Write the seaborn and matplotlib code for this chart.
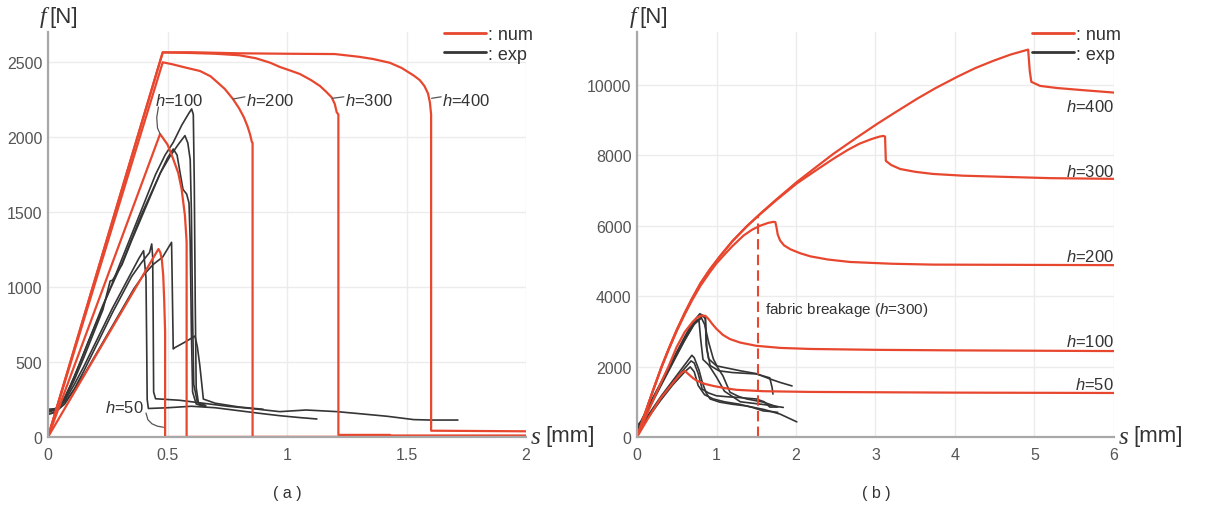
import numpy as np
import pandas as pd
import matplotlib
matplotlib.use("Agg")
import matplotlib.pyplot as plt
from matplotlib.lines import Line2D
import seaborn as sns

# ---------------------------------------------------------------- data (a)
# numerical curves, slip s [mm] vs force f [N]
a_num_h50_s = [0, 0.462, 0.47, 0.476, 0.482, 0.486, 0.49, 0.49, 2.0]
a_num_h50_f = [0, 1253, 1230, 1187, 1080, 920, 700, 0, 0]
a_num_h100_s = [0, 0.469, 0.5, 0.524, 0.545, 0.559, 0.573, 0.58, 0.58, 2.0]
a_num_h100_f = [0, 2020, 1950, 1853, 1760, 1653, 1476, 1300, 0, 0]
a_num_h200_s = [0, 0.48, 0.52, 0.57, 0.636, 0.68, 0.707, 0.74, 0.774, 0.8, 0.82, 0.835,
                0.845, 0.853, 0.856, 0.856, 2.0]
a_num_h200_f = [0, 2498, 2485, 2465, 2440, 2405, 2367, 2320, 2253, 2190, 2130, 2070,
                2020, 1967, 1960, 0, 0]
a_num_h300_s = [0, 0.48, 0.6, 0.7, 0.8, 0.87, 0.93, 0.97, 1.01, 1.054, 1.1, 1.138, 1.165,
                1.187, 1.2, 1.208, 1.215, 1.215, 1.43, 1.43, 2.0]
a_num_h300_f = [0, 2564, 2560, 2555, 2545, 2525, 2495, 2467, 2445, 2420, 2380, 2340, 2300,
                2264, 2220, 2165, 2150, 14, 14, 10, 10]
a_num_h400_s = [0, 0.48, 0.6, 0.8, 1.0, 1.2, 1.3, 1.36, 1.43, 1.48, 1.53, 1.555, 1.575,
                1.59, 1.598, 1.603, 1.603, 2.0]
a_num_h400_f = [0, 2564, 2565, 2558, 2555, 2553, 2535, 2520, 2495, 2460, 2410, 2380, 2340,
                2290, 2230, 2150, 42, 38]

# experimental curves
a_exp1_s = [0, 0.02, 0.05, 0.09, 0.13, 0.17, 0.21, 0.25, 0.29, 0.33, 0.37, 0.41, 0.45, 0.49,
            0.524, 0.56, 0.59, 0.601, 0.608, 0.612, 0.616, 0.62, 0.63, 0.66]
a_exp1_f = [155, 160, 200, 330, 480, 640, 790, 950, 1110, 1270, 1430, 1590, 1750, 1880,
            1964, 2080, 2160, 2187, 2150, 1700, 900, 330, 220, 200]
a_exp2_s = [0, 0.03, 0.07, 0.11, 0.15, 0.19, 0.23, 0.27, 0.31, 0.35, 0.39, 0.43, 0.47, 0.51,
            0.545, 0.573, 0.585, 0.595, 0.6, 0.605, 0.61, 0.625, 0.66]
a_exp2_f = [175, 185, 260, 400, 560, 720, 880, 1020, 1160, 1320, 1480, 1620, 1760, 1870,
            1950, 2009, 1960, 1850, 1500, 800, 350, 230, 210]
a_exp3_s = [0, 0.03, 0.07, 0.11, 0.15, 0.19, 0.23, 0.26, 0.27, 0.31, 0.35, 0.39, 0.43, 0.47,
            0.50, 0.524, 0.54, 0.555, 0.565, 0.58, 0.59, 0.595, 0.6, 0.605, 0.62, 0.65]
a_exp3_f = [165, 180, 250, 380, 530, 690, 850, 1040, 1045, 1150, 1310, 1460, 1610, 1760,
            1860, 1920, 1880, 1740, 1650, 1620, 1560, 1300, 700, 300, 220, 205]
a_exp4_s = [0, 0.03, 0.07, 0.11, 0.15, 0.19, 0.23, 0.27, 0.31, 0.35, 0.39, 0.41, 0.425, 0.434,
            0.438, 0.44, 0.442, 0.45, 0.55, 0.65, 0.75, 0.85, 0.97, 1.08, 1.21, 1.32, 1.42,
            1.53, 1.6, 1.715]
a_exp4_f = [150, 165, 220, 320, 440, 570, 700, 830, 950, 1070, 1160, 1200, 1230, 1287,
            1200, 800, 300, 255, 245, 225, 205, 190, 169, 180, 169, 153, 138,
            116, 113, 113]
a_exp5_s = [0, 0.03, 0.07, 0.11, 0.15, 0.19, 0.23, 0.27, 0.31, 0.35, 0.38, 0.40, 0.405, 0.41,
            0.413, 0.415, 0.42, 0.5, 0.6, 0.7, 0.8, 0.9, 0.97, 1.05, 1.125]
a_exp5_f = [170, 185, 240, 350, 470, 600, 730, 860, 980, 1100, 1190, 1242, 1150, 1060,
            600, 250, 190, 195, 205, 195, 175, 155, 142, 130, 120]
a_exp6_s = [0, 0.04, 0.08, 0.12, 0.16, 0.2, 0.24, 0.28, 0.32, 0.36, 0.4, 0.44, 0.48, 0.517,
            0.52, 0.524, 0.53, 0.57, 0.615, 0.625, 0.635, 0.645, 0.65, 0.7, 0.8, 0.9]
a_exp6_f = [185, 190, 250, 340, 440, 550, 660, 770, 880, 990, 1080, 1150, 1200, 1298,
            1000, 587, 595, 630, 673, 600, 480, 330, 253, 225, 200, 185]

# ---------------------------------------------------------------- data (b)
b_num_h400_s = [0, 0.1, 0.2, 0.31, 0.4, 0.5, 0.6, 0.69, 0.8, 0.92, 1.05, 1.2, 1.38, 1.55,
                1.75, 2.01, 2.25, 2.47, 2.75, 3.02, 3.25, 3.52, 3.75, 4.03, 4.25, 4.48, 4.7,
                4.92, 4.94, 4.96, 5.07, 5.28, 5.6, 6.0]
b_num_h400_f = [0, 660, 1310, 2000, 2510, 3040, 3520, 3920, 4370, 4770, 5150, 5560, 5980, 6340,
                6740, 7240, 7660, 8040, 8480, 8890, 9220, 9600, 9900, 10230, 10470, 10680, 10860,
                11000, 10400, 10085, 9970, 9910, 9850, 9780]
b_num_h300_s = [0, 0.1, 0.2, 0.31, 0.4, 0.5, 0.6, 0.69, 0.8, 0.92, 1.05, 1.2, 1.38, 1.55,
                1.75, 2.01, 2.25, 2.47, 2.65, 2.8, 2.95, 3.05, 3.1, 3.12, 3.13, 3.2, 3.31,
                3.5, 3.72, 4.1, 4.57, 5.2, 6.0]
b_num_h300_f = [0, 660, 1310, 2000, 2510, 3040, 3520, 3920, 4370, 4770, 5150, 5560, 5980, 6330,
                6720, 7200, 7570, 7900, 8150, 8330, 8460, 8530, 8550, 8530, 7840, 7720, 7610,
                7530, 7470, 7420, 7390, 7350, 7330]
b_num_h200_s = [0, 0.1, 0.2, 0.31, 0.4, 0.5, 0.6, 0.69, 0.8, 0.92, 1.0, 1.1, 1.2, 1.34, 1.45,
                1.55, 1.65, 1.72, 1.74, 1.755, 1.77, 1.8, 1.85, 1.93, 2.05, 2.18, 2.4, 2.68,
                3.2, 3.72, 6.0]
b_num_h200_f = [0, 660, 1310, 1990, 2490, 3010, 3480, 3870, 4300, 4690, 4930, 5180, 5420, 5720,
                5890, 6000, 6080, 6110, 6100, 5950, 5750, 5580, 5440, 5330, 5220, 5130, 5040,
                4970, 4920, 4895, 4880]
b_num_h100_s = [0, 0.1, 0.2, 0.3, 0.4, 0.5, 0.6, 0.7, 0.76, 0.82, 0.86, 0.9, 0.95, 1.0, 1.08,
                1.17, 1.3, 1.5, 1.8, 2.18, 3.0, 4.0, 6.0]
b_num_h100_f = [0, 520, 1030, 1530, 2020, 2560, 2980, 3270, 3400, 3450, 3440, 3350, 3200, 3070,
                2900, 2780, 2680, 2590, 2530, 2500, 2475, 2460, 2440]
b_num_h50_s = [0, 0.15, 0.29, 0.45, 0.55, 0.6, 0.65, 0.7, 0.75, 0.85, 0.96, 1.1, 1.25, 1.59,
               2.18, 4.0, 6.0]
b_num_h50_f = [0, 570, 1080, 1530, 1800, 1880, 1780, 1680, 1600, 1510, 1450, 1390, 1340, 1300,
               1280, 1260, 1250]

b_break_s = [1.52, 1.52]
b_break_f = [0, 6300]

b_exp1_s = [0, 0.05, 0.15, 0.3, 0.45, 0.6, 0.7, 0.79, 0.83, 0.86, 0.87, 0.9, 1.0, 1.15, 1.3, 1.5, 1.67, 1.8, 1.95]
b_exp1_f = [310, 450, 900, 1550, 2200, 2850, 3250, 3500, 3450, 3400, 2600, 2220, 2020, 1950, 1880, 1800, 1650, 1550, 1450]
b_exp2_s = [0, 0.05, 0.15, 0.3, 0.45, 0.6, 0.72, 0.83, 0.86, 0.88, 0.92, 1.03, 1.2, 1.5, 1.67, 1.7, 1.71]
b_exp2_f = [250, 400, 850, 1500, 2150, 2800, 3250, 3440, 3350, 2500, 2030, 1880, 1830, 1790, 1680, 1400, 1220]
b_exp3_s = [0, 0.05, 0.15, 0.3, 0.45, 0.6, 0.72, 0.81, 0.85, 0.9, 0.96, 1.02, 1.08, 1.17, 1.28, 1.38, 1.59, 1.77]
b_exp3_f = [200, 380, 800, 1450, 2100, 2750, 3200, 3380, 3200, 2700, 2220, 1950, 1740, 1270, 1150, 1080, 990, 850]
b_exp4_s = [0, 0.05, 0.15, 0.3, 0.45, 0.6, 0.7, 0.75, 0.78, 0.8, 0.83, 0.9, 1.0, 1.1, 1.3, 1.6, 1.84]
b_exp4_f = [280, 420, 870, 1500, 2150, 2750, 3150, 3320, 3300, 2800, 2200, 2050, 1700, 1300, 1000, 920, 840]
b_exp5_s = [0, 0.05, 0.15, 0.3, 0.45, 0.6, 0.69, 0.72, 0.78, 0.82, 0.87, 0.92, 1.04, 1.2, 1.38, 1.6, 1.8, 2.01]
b_exp5_f = [200, 350, 650, 1150, 1600, 2050, 2320, 2250, 1900, 1560, 1250, 1080, 990, 930, 880, 780, 650, 430]
b_exp6_s = [0, 0.05, 0.15, 0.3, 0.45, 0.6, 0.68, 0.72, 0.77, 0.82, 0.9, 1.0, 1.15, 1.29, 1.5, 1.6, 1.67, 1.76]
b_exp6_f = [220, 340, 620, 1100, 1550, 1950, 2160, 2100, 1800, 1360, 1250, 1170, 1140, 1120, 1080, 1000, 850, 850]
b_exp7_s = [0, 0.05, 0.15, 0.3, 0.45, 0.6, 0.67, 0.72, 0.77, 0.85, 0.96, 1.1, 1.29, 1.45, 1.59, 1.7, 1.77]
b_exp7_f = [190, 300, 580, 1050, 1480, 1850, 1990, 1850, 1460, 1200, 1080, 1000, 930, 840, 740, 720, 700]

# tick values
a_xticks = [0, 0.5, 1, 1.5, 2]
a_xticklabels = ["0", "0.5", "1", "1.5", "2"]
a_yticks = [0, 500, 1000, 1500, 2000, 2500]
b_xticks = [0, 1, 2, 3, 4, 5, 6]
b_yticks = [0, 2000, 4000, 6000, 8000, 10000]

# curve labels
a_labels = ["$h$=100", "$h$=200", "$h$=300", "$h$=400"]
a_label_s = [0.448, 0.83, 1.243, 1.65]
a_label_f = [2247, 2247, 2247, 2247]
b_labels = ["$h$=400", "$h$=300", "$h$=200", "$h$=100", "$h$=50"]
b_label_f = [9400, 7560, 5150, 2730, 1500]

# ---------------------------------------------------------------- style
RED = "#e8472f"
EXP = "#353535"
GRID = "#ececec"
SPINE = "#a8a8a8"
TICK = "#555555"

sns.set_theme(style="whitegrid")
plt.rcParams["font.family"] = ["Liberation Sans", "DejaVu Sans"]
plt.rcParams["mathtext.fontset"] = "custom"
plt.rcParams["mathtext.it"] = "Liberation Sans:italic"
plt.rcParams["mathtext.rm"] = "Liberation Sans"

fig = plt.figure(figsize=(12.06, 5.10), dpi=100)
W, H = 1206, 510
ax_a = fig.add_axes([48 / W, 72 / H, 478 / W, 405 / H])
ax_b = fig.add_axes([637 / W, 72 / H, 477 / W, 405 / H])


def draw(ax, s, f, color, lw, ls="-"):
    df = pd.DataFrame({"s": s, "f": f})
    sns.lineplot(data=df, x="s", y="f", sort=False, estimator=None, color=color,
                 lw=lw, ls=ls, ax=ax, legend=False)


def style_axes(ax, xlim, ylim, xticks, yticks, xticklabels=None):
    ax.set_xlim(*xlim)
    ax.set_ylim(*ylim)
    ax.set_xticks(xticks)
    ax.set_yticks(yticks)
    if xticklabels is not None:
        ax.set_xticklabels(xticklabels)
    ax.set_xlabel("")
    ax.set_ylabel("")
    ax.set_facecolor("white")
    ax.grid(True, color=GRID, lw=1.0)
    for side in ("top", "right"):
        ax.spines[side].set_visible(False)
    for side in ("left", "bottom"):
        ax.spines[side].set_visible(True)
        ax.spines[side].set_color(SPINE)
        ax.spines[side].set_linewidth(1.6)
    ax.tick_params(axis="both", direction="in", length=4, width=1, color=SPINE,
                   labelcolor=TICK, labelsize=11.5)
    ax.tick_params(axis="x", pad=7.5)
    ax.tick_params(axis="y", pad=4)
    ax.set_axisbelow(True)
    handles = [Line2D([], [], color=RED, lw=2.0), Line2D([], [], color=EXP, lw=2.0)]
    ax.legend(handles, [": num", ": exp"], loc="upper right", bbox_to_anchor=(1.015, 1.015),
              frameon=False, fontsize=13, handlelength=2.3, handletextpad=0.15,
              labelspacing=0.15, borderpad=0, borderaxespad=0, labelcolor="#333333")


# ---------------------------------------------------------------- panel (a)
for s, f in [(a_exp1_s, a_exp1_f), (a_exp2_s, a_exp2_f), (a_exp3_s, a_exp3_f),
             (a_exp4_s, a_exp4_f), (a_exp5_s, a_exp5_f), (a_exp6_s, a_exp6_f)]:
    draw(ax_a, s, f, EXP, 1.2)
for s, f in [(a_num_h50_s, a_num_h50_f), (a_num_h100_s, a_num_h100_f),
             (a_num_h200_s, a_num_h200_f), (a_num_h300_s, a_num_h300_f),
             (a_num_h400_s, a_num_h400_f)]:
    draw(ax_a, s, f, RED, 1.6)

style_axes(ax_a, (0, 2), (0, 2700), a_xticks, a_yticks, a_xticklabels)

for txt, s, f in zip(a_labels, a_label_s, a_label_f):
    ax_a.text(s, f, txt, fontsize=12, color="#333333", ha="left", va="center")
# leader lines from curves to their labels
ax_a.plot([0.462, 0.455, 0.458, 0.469], [2200, 2130, 2060, 2020], color="#555555", lw=0.9)
ax_a.plot([0.774, 0.824], [2253, 2268], color="#555555", lw=0.9)
ax_a.plot([1.19, 1.238], [2258, 2268], color="#555555", lw=0.9)
ax_a.plot([1.605, 1.645], [2258, 2268], color="#555555", lw=0.9)
ax_a.text(0.318, 200, "$h$=50", fontsize=12, color="#333333", ha="center", va="center")
ax_a.plot([0.41, 0.418, 0.435, 0.458, 0.483], [160, 115, 88, 72, 65], color="#555555", lw=0.9)

# ---------------------------------------------------------------- panel (b)
for s, f in [(b_exp1_s, b_exp1_f), (b_exp2_s, b_exp2_f), (b_exp3_s, b_exp3_f),
             (b_exp4_s, b_exp4_f), (b_exp5_s, b_exp5_f), (b_exp6_s, b_exp6_f),
             (b_exp7_s, b_exp7_f)]:
    draw(ax_b, s, f, EXP, 1.2)
for s, f in [(b_num_h50_s, b_num_h50_f), (b_num_h100_s, b_num_h100_f),
             (b_num_h200_s, b_num_h200_f), (b_num_h300_s, b_num_h300_f),
             (b_num_h400_s, b_num_h400_f)]:
    draw(ax_b, s, f, RED, 1.6)
draw(ax_b, b_break_s, b_break_f, RED, 1.5, ls=(0, (5, 2.5)))

style_axes(ax_b, (0, 6), (0, 11500), b_xticks, b_yticks)

for txt, f in zip(b_labels, b_label_f):
    ax_b.text(6.0, f, txt, fontsize=12, color="#333333", ha="right", va="center")
ax_b.text(1.61, 3640, "fabric breakage ($h$=300)", fontsize=11, color="#333333",
          ha="left", va="center")

# ---------------------------------------------------------------- axis titles
for ax_left, ax_right in [(36, 526), (626, 1114)]:
    fig.text((ax_left + 10) / W, (510 - 18) / H, "f", fontfamily="Liberation Serif",
             style="italic", fontsize=17, color="#333333", ha="right", va="center")
    fig.text((ax_left + 13) / W, (510 - 18) / H, "[N]", fontsize=16, color="#333333",
             ha="left", va="center")
    fig.text((ax_right + 14) / W, (510 - 438) / H, "s", fontfamily="Liberation Serif",
             style="italic", fontsize=18, color="#333333", ha="right", va="center")
    fig.text((ax_right + 19) / W, (510 - 437) / H, "[mm]", fontsize=16, color="#333333",
             ha="left", va="center")

fig.text(287 / W, (510 - 494) / H, "( a )", fontsize=11.5, color="#333333", ha="center", va="center")
fig.text(876 / W, (510 - 494) / H, "( b )", fontsize=11.5, color="#333333", ha="center", va="center")

fig.savefig("out.png", dpi=100, facecolor="white")
